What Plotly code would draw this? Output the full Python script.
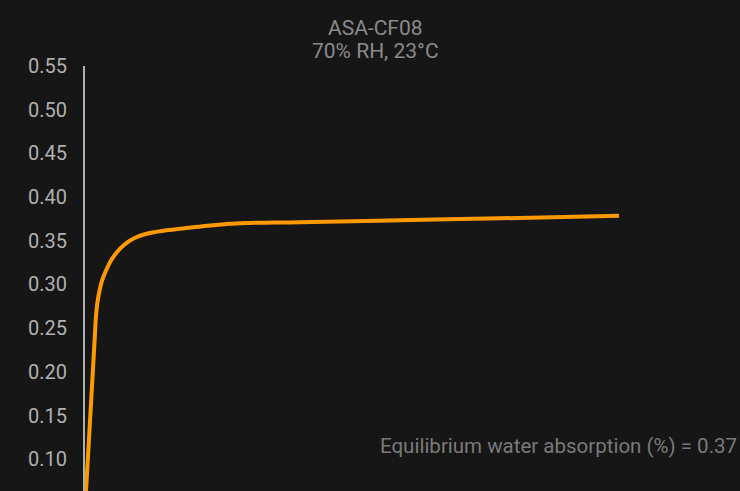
import plotly.graph_objects as go

# Data (time in arbitrary days, water absorption in %)
time_days = [0.0, 1.87, 2.03, 2.28, 2.65, 3.06, 3.69, 4.48, 5.43, 6.48, 8.06, 9.9, 12.78, 15.77, 19.24, 22.39, 25.54, 34.2, 50.0, 65.69, 84.44]
absorption = [0.0, 0.2384, 0.2594, 0.2785, 0.2937, 0.3052, 0.3166, 0.3280, 0.3375, 0.3452, 0.3529, 0.3578, 0.3616, 0.3640, 0.3669, 0.3690, 0.3704, 0.3713, 0.3735, 0.3757, 0.3787]

title_lines = ["ASA-CF08", "70% RH, 23°C"]
annotation_text = "Equilibrium water absorption (%) = 0.37"
y_ticks = [0.10, 0.15, 0.20, 0.25, 0.30, 0.35, 0.40, 0.45, 0.50, 0.55]

PLOT_L, PLOT_W, PLOT_T, PLOT_H = 85, 635, 66, 425

def px_x(px):
    return (px - PLOT_L) / PLOT_W

def px_y(py):
    return (PLOT_T + PLOT_H - py) / PLOT_H

fig = go.Figure()
fig.add_trace(go.Scatter(
    x=time_days, y=absorption, mode="lines",
    line=dict(color="#ff9900", width=4, shape="spline", smoothing=1.0),
    hoverinfo="skip", showlegend=False,
))

annotations = [
    dict(text=title_lines[0], xref="paper", yref="paper", x=px_x(375), y=px_y(28),
         xanchor="center", yanchor="middle", showarrow=False,
         font=dict(family="Roboto", size=21, color="#8a8a8a")),
    dict(text=title_lines[1], xref="paper", yref="paper", x=px_x(375), y=px_y(51),
         xanchor="center", yanchor="middle", showarrow=False,
         font=dict(family="Roboto", size=21, color="#8a8a8a")),
    dict(text=annotation_text, xref="paper", yref="paper",
         x=px_x(739), y=px_y(446), xanchor="right", yanchor="middle",
         showarrow=False,
         font=dict(family="Roboto", size=20.5, color="#7a7a7a")),
]

fig.update_layout(
    width=740, height=491,
    paper_bgcolor="#161616", plot_bgcolor="#161616",
    margin=dict(l=PLOT_L, r=740 - PLOT_L - PLOT_W, t=PLOT_T, b=491 - PLOT_T - PLOT_H, pad=0),
    font=dict(family="Roboto", size=20, color="#b0b0b0"),
    xaxis=dict(range=[0.34, 100.34], showgrid=False, zeroline=False, showline=False,
               showticklabels=False, ticks=""),
    yaxis=dict(range=[0.0637, 0.55], showgrid=False, zeroline=False,
               showline=True, linecolor="#b0b0b0", linewidth=2,
               tickvals=y_ticks, ticktext=[f"{v:.2f}" for v in y_ticks],
               ticks="", ticklabelstandoff=12,
               tickfont=dict(family="Roboto", size=20, color="#b0b0b0")),
    annotations=annotations,
)

fig.write_html("out.html", config={"displayModeBar": False},
               post_script="document.body.style.margin='0';document.body.style.background='#161616';")
